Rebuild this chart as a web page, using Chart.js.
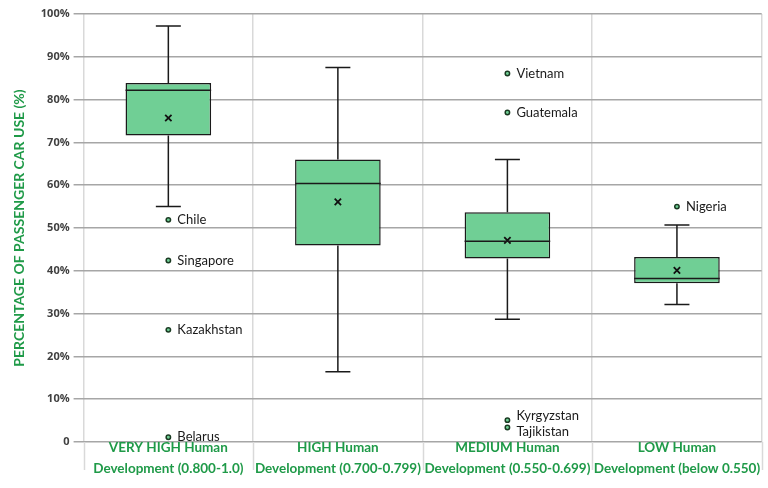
<!DOCTYPE html>
<html><head><meta charset="utf-8">
<script src="https://cdn.jsdelivr.net/npm/chart.js@4"></script>
<style>html,body{margin:0;padding:0;background:#fff;overflow:hidden}#wrap{width:768px;height:488px;position:relative}</style>
</head><body><div id="wrap"><canvas id="c"></canvas></div>
<script>
const categories = [
  ["VERY HIGH Human", "Development (0.800-1.0)"],
  ["HIGH Human", "Development (0.700-0.799)"],
  ["MEDIUM Human", "Development (0.550-0.699)"],
  ["LOW Human", "Development (below 0.550)"]
];
const q1 = [71.6, 45.9, 42.9, 37.1];
const medians = [82.2, 60.4, 46.9, 38.2];
const q3 = [83.9, 66.0, 53.7, 43.2];
const whiskerLow = [55.0, 16.4, 28.7, 32.1];
const whiskerHigh = [97.2, 87.5, 66.0, 50.7];
const means = [75.7, 56.1, 47.1, 40.1];
const outlierGroup = [0, 0, 0, 0, 2, 2, 2, 2, 3];
const outlierValues = [51.9, 42.4, 26.2, 1.1, 86.1, 77.0, 5.1, 3.4, 55.0];
const outlierNames = ["Chile", "Singapore", "Kazakhstan", "Belarus", "Vietnam", "Guatemala", "Kyrgyzstan", "Tajikistan", "Nigeria"];
const yTicks = [0, 10, 20, 30, 40, 50, 60, 70, 80, 90, 100];

const GREEN = '#1f9a48';
const keys = categories.map((c, i) => 'c' + i);

const boxPlugin = {
  id: 'boxExtras',
  afterDatasetsDraw(chart) {
    const ctx = chart.ctx, x = chart.scales.x, y = chart.scales.y, ca = chart.chartArea;
    const meta = chart.getDatasetMeta(0);
    ctx.save();
    ctx.strokeStyle = '#d9d9d9'; ctx.lineWidth = 1.5;
    const step = (ca.right - ca.left) / categories.length;
    for (let i = 0; i <= categories.length; i++) {
      const px = Math.round(ca.left + i * step) + 0.5;
      ctx.beginPath(); ctx.moveTo(px, ca.bottom); ctx.lineTo(px, ca.bottom + 28); ctx.stroke();
    }
    // category labels (two lines) below the plot
    ctx.fillStyle = GREEN;
    ctx.font = 'bold 13.5px Lato, sans-serif';
    ctx.textAlign = 'center';
    ctx.textBaseline = 'middle';
    categories.forEach((c, i) => {
      const px = x.getPixelForValue(i);
      ctx.fillText(c[0], px, ca.bottom + 6);
      ctx.fillText(c[1], px, ca.bottom + 27);
    });
    ctx.strokeStyle = '#1a1a1a'; ctx.lineWidth = 1.5;
    categories.forEach((c, i) => {
      const bar = meta.data[i];
      const cx = bar.x, hw = bar.width / 2;
      const capW = 12.5;
      const yH = y.getPixelForValue(whiskerHigh[i]), yL = y.getPixelForValue(whiskerLow[i]);
      const yQ3 = y.getPixelForValue(q3[i]), yQ1 = y.getPixelForValue(q1[i]);
      ctx.beginPath();
      ctx.moveTo(cx, yQ3); ctx.lineTo(cx, yH);
      ctx.moveTo(cx - capW, yH); ctx.lineTo(cx + capW, yH);
      ctx.moveTo(cx, yQ1); ctx.lineTo(cx, yL);
      ctx.moveTo(cx - capW, yL); ctx.lineTo(cx + capW, yL);
      const ym = y.getPixelForValue(medians[i]);
      ctx.moveTo(cx - hw, ym); ctx.lineTo(cx + hw, ym);
      ctx.stroke();
    });
    ctx.fillStyle = '#1a1a1a';
    ctx.font = '13px Lato, sans-serif';
    ctx.textBaseline = 'middle';
    ctx.textAlign = 'left';
    const pos = outlierValues.map((v, k) => ({ k, g: outlierGroup[k], px: x.getPixelForValue(outlierGroup[k]), py: y.getPixelForValue(v) }));
    pos.forEach(p => p.ly = p.py);
    for (let a = 0; a < pos.length; a++) {
      for (let b = a + 1; b < pos.length; b++) {
        const A = pos[a], B = pos[b];
        if (A.g === B.g && Math.abs(A.ly - B.ly) < 16) {
          const mid = (A.ly + B.ly) / 2, up = A.ly < B.ly ? A : B, dn = up === A ? B : A;
          up.ly = mid - 8; dn.ly = mid + 8;
        }
      }
    }
    pos.forEach(p => ctx.fillText(outlierNames[p.k], p.px + 9, p.ly));
    ctx.restore();
  }
};

new Chart(document.getElementById('c'), {
  data: {
    labels: keys,
    datasets: [
      {
        type: 'bar',
        data: categories.map((c, i) => [q1[i], q3[i]]),
        backgroundColor: '#70cf95',
        borderColor: '#1a1a1a',
        borderWidth: 1.5,
        borderSkipped: false,
        barPercentage: 0.505,
        categoryPercentage: 1.0,
        order: 3
      },
      {
        type: 'scatter',
        data: categories.map((c, i) => ({ x: keys[i], y: means[i] })),
        pointStyle: 'crossRot',
        radius: 4.5,
        borderColor: '#111',
        borderWidth: 1.8,
        order: 1
      },
      {
        type: 'scatter',
        data: outlierValues.map((v, k) => ({ x: keys[outlierGroup[k]], y: v })),
        pointStyle: 'circle',
        radius: 2.2,
        backgroundColor: '#70cf95',
        borderColor: '#1a3a22',
        borderWidth: 1.5,
        order: 0
      }
    ]
  },
  options: {
    responsive: true,
    maintainAspectRatio: false,
    animation: false,
    layout: { padding: { top: 14, right: 2, left: 11, bottom: 46 } },
    plugins: { legend: { display: false }, tooltip: { enabled: false } },
    scales: {
      x: {
        type: 'category',
        offset: true,
        grid: { offset: true, color: '#d9d9d9', lineWidth: 1.5, drawTicks: false },
        border: { display: false },
        ticks: { display: false }
      },
      y: {
        min: 0, max: 100,
        afterBuildTicks: (s) => { s.ticks = yTicks.map(v => ({ value: v })); },
        grid: { color: '#a6a6a6', lineWidth: 1.5, tickLength: 10 },
        border: { display: false },
        ticks: {
          callback: (v) => v === 0 ? '0' : v + '%',
          color: '#404040',
          font: { family: '"Open Sans", sans-serif', size: 11, weight: 'bold' },
          padding: 4
        },
        title: {
          display: true,
          text: 'PERCENTAGE OF PASSENGER CAR USE (%)',
          color: GREEN,
          font: { family: 'Lato, sans-serif', size: 14, weight: 'bold' },
          padding: { top: 0, bottom: 9 }
        }
      }
    }
  },
  plugins: [boxPlugin]
});
</script></body></html>
